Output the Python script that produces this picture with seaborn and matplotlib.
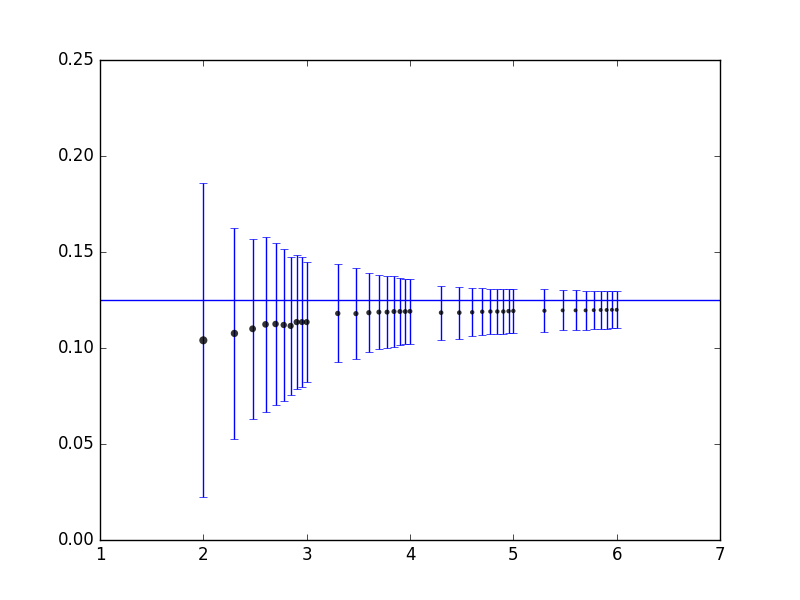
import numpy as np
import pandas as pd
import seaborn as sns
from matplotlib import pyplot as plt

# x positions (log10 of sample count), means, half-widths of error bars, marker areas
x_vals = [2.0, 2.301, 2.477, 2.602, 2.699, 2.778, 2.845, 2.903, 2.954, 3.0,
          3.301, 3.477, 3.602, 3.699, 3.778, 3.845, 3.903, 3.954, 4.0,
          4.301, 4.477, 4.602, 4.699, 4.778, 4.845, 4.903, 4.954, 5.0,
          5.301, 5.477, 5.602, 5.699, 5.778, 5.845, 5.903, 5.954, 6.0]
y_vals = [0.104, 0.1076, 0.110, 0.1123, 0.1125, 0.112, 0.1115, 0.1135, 0.1135, 0.1135,
          0.118, 0.1179, 0.1184, 0.1187, 0.1187, 0.119, 0.119, 0.119, 0.1191,
          0.1184, 0.1184, 0.1186, 0.1189, 0.119, 0.119, 0.119, 0.1192, 0.1193,
          0.1194, 0.1196, 0.1196, 0.1196, 0.1197, 0.1198, 0.1198, 0.1199, 0.1199]
y_err = [0.0817, 0.055, 0.047, 0.0455, 0.042, 0.0398, 0.036, 0.035, 0.0338, 0.0314,
         0.0255, 0.0237, 0.0206, 0.0194, 0.0188, 0.0183, 0.0174, 0.0171, 0.0169,
         0.014, 0.0136, 0.0126, 0.0123, 0.0119, 0.0119, 0.0118, 0.0116, 0.0114,
         0.0112, 0.0104, 0.0104, 0.0100, 0.0100, 0.0099, 0.0097, 0.0096, 0.0096]
marker_area = [34, 28, 24, 23, 22, 21, 20, 20, 19, 19,
               15, 14, 14, 13, 13, 13, 13, 12, 12,
               11, 11, 10, 10, 10, 10, 10, 10, 10,
               9, 8, 8, 8, 8, 8, 8, 8, 8]
true_value = 0.125

df = pd.DataFrame({'x': x_vals, 'y': y_vals, 'err': y_err, 'area': marker_area})

plt.style.use('classic')
fig, ax = plt.subplots(figsize=(8, 6), dpi=100)
fig.patch.set_facecolor('white')

ax.axhline(true_value, color='b', lw=1)
ax.errorbar(df['x'], df['y'], yerr=df['err'], fmt='none', ecolor='b', capsize=3, lw=1)
sns.scatterplot(data=df, x='x', y='y', size='area',
                sizes=(min(marker_area), max(marker_area)),
                color='black', alpha=0.8, linewidth=0, legend=False, ax=ax, zorder=3)

ax.set_xlim(1, 7)
ax.set_ylim(0, 0.25)
ax.set_xticks(np.arange(1, 8))
ax.set_yticks(np.arange(0, 0.2501, 0.05))
ax.set_yticklabels(['{:.2f}'.format(v) for v in np.arange(0, 0.2501, 0.05)])
ax.set_xlabel('')
ax.set_ylabel('')

fig.savefig('out.png', dpi=100, facecolor='white')
